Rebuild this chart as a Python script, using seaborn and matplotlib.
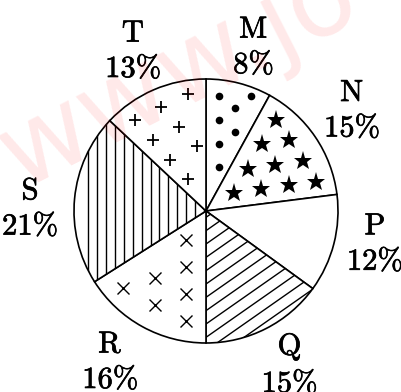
import numpy as np
import matplotlib
matplotlib.use("Agg")
import matplotlib.pyplot as plt
import matplotlib.patheffects as pe
import seaborn as sns

# ---- data ----
categories = ["M", "N", "P", "Q", "R", "S", "T"]
shares = [8, 15, 12, 15, 16, 21, 13]
textures = ["dots", "stars", "none", "diag", "cross", "vlines", "plus"]

# label nudges in pixels (dx right, dy down) relative to the pie's label spot
label_nudge = {"M": (4, 6), "N": (1, -2), "P": (-1, -11), "Q": (4, -3),
               "R": (-11, -3), "S": (-1, 14), "T": (-3, 1)}

sns.set_theme(style="white")
plt.rcParams["mathtext.fontset"] = "cm"

R_PX = 132.0
fig = plt.figure(figsize=(4.01, 3.92), dpi=100)
ax = fig.add_axes([0, 0, 1, 1])

labels = [rf"$\mathrm{{{c}}}$" + "\n" + rf"${v}\%$" for c, v in zip(categories, shares)]
wedges, texts = ax.pie(
    shares, labels=labels, startangle=90, counterclock=False,
    labeldistance=1.33,
    wedgeprops=dict(facecolor="white", edgecolor="black", linewidth=1.2),
    textprops=dict(fontsize=22, ha="center", va="center", linespacing=1.27, color="black",
                   path_effects=[pe.withStroke(linewidth=0.5, foreground="black")]),
)
for t, c in zip(texts, categories):
    x, y = t.get_position()
    dx, dy = label_nudge[c]
    t.set_position((x + dx / R_PX, y - dy / R_PX))


def inside(w, pts, m):
    out = []
    t1, t2 = w.theta1, w.theta2
    span = (t2 - t1) % 360
    for u, v in pts:
        r = np.hypot(u, v)
        if r > 1 - m or r < 1e-9:
            continue
        ang = np.degrees(np.arctan2(v, u)) % 360
        d1 = (ang - t1) % 360
        if d1 > span:
            continue
        d2 = span - d1
        dmin = min(d1, d2)
        dist = r * np.sin(np.radians(dmin)) if dmin < 90 else r
        if dist > m:
            out.append((u, v))
    return np.array(out)


def lattice(origin, a, b, n=10):
    o, a, b = np.array(origin), np.array(a), np.array(b)
    return [tuple(o + i * a + j * b) for i in range(-n, n + 1) for j in range(-n, n + 1)]


tex_specs = {
    "dots": dict(origin=(0.10, 0.87), a=(0.12, -0.09), b=(0.0, 0.18), m=0.04,
                 kw=dict(marker="o", ms=5.5, color="black", mew=0)),
    "stars": dict(origin=(0.212, 0.136), a=(0.208, 0.029), b=(0.106, 0.185), m=0.06,
                  kw=dict(marker="*", ms=14, color="black", mew=0)),
    "plus": dict(origin=(-0.54, 0.69), a=(0.2, 0.1), b=(0.135, -0.15), m=0.05,
                 kw=dict(marker="+", ms=9, color="black", mew=1.3)),
    "cross": dict(origin=(-0.15, -0.22), a=(0.0, -0.205), b=(-0.24, -0.08), m=0.05,
                  kw=dict(marker="x", ms=8.5, color="black", mew=1.0)),
}

for w, tex in zip(wedges, textures):
    if tex in tex_specs:
        s = tex_specs[tex]
        pts = inside(w, lattice(s["origin"], s["a"], s["b"]), s["m"])
        if len(pts):
            ax.plot(pts[:, 0], pts[:, 1], ls="none", zorder=3, **s["kw"])
    elif tex == "diag":
        slope = np.tan(np.radians(35))
        uu = np.array([-0.2, 1.2])
        for k in range(-25, 5):
            c = -0.048 + k * 0.101
            ln, = ax.plot(uu, slope * uu + c, color="black", lw=1.0, zorder=2)
            ln.set_clip_path(w)
    elif tex == "vlines":
        for k in range(0, 20):
            x = -0.892 + k * 0.0674
            ln, = ax.plot([x, x], [-1.1, 1.1], color="black", lw=1.0, zorder=2)
            ln.set_clip_path(w)

# layout: radius 132 px, centre at (206, 211) px from top-left
ax.set_aspect("auto")
ax.set_xlim(-206 / R_PX, (401 - 206) / R_PX)
ax.set_ylim(-(392 - 211) / R_PX, 211 / R_PX)
ax.axis("off")

# faint watermark overlay
fig.text(20 / 401, 1 - 190 / 392, "www.jo", fontsize=78, color="red",
         alpha=0.09, rotation=27, rotation_mode="anchor", ha="left", va="baseline",
         zorder=10)

fig.savefig("out.png", dpi=100, facecolor="white")
